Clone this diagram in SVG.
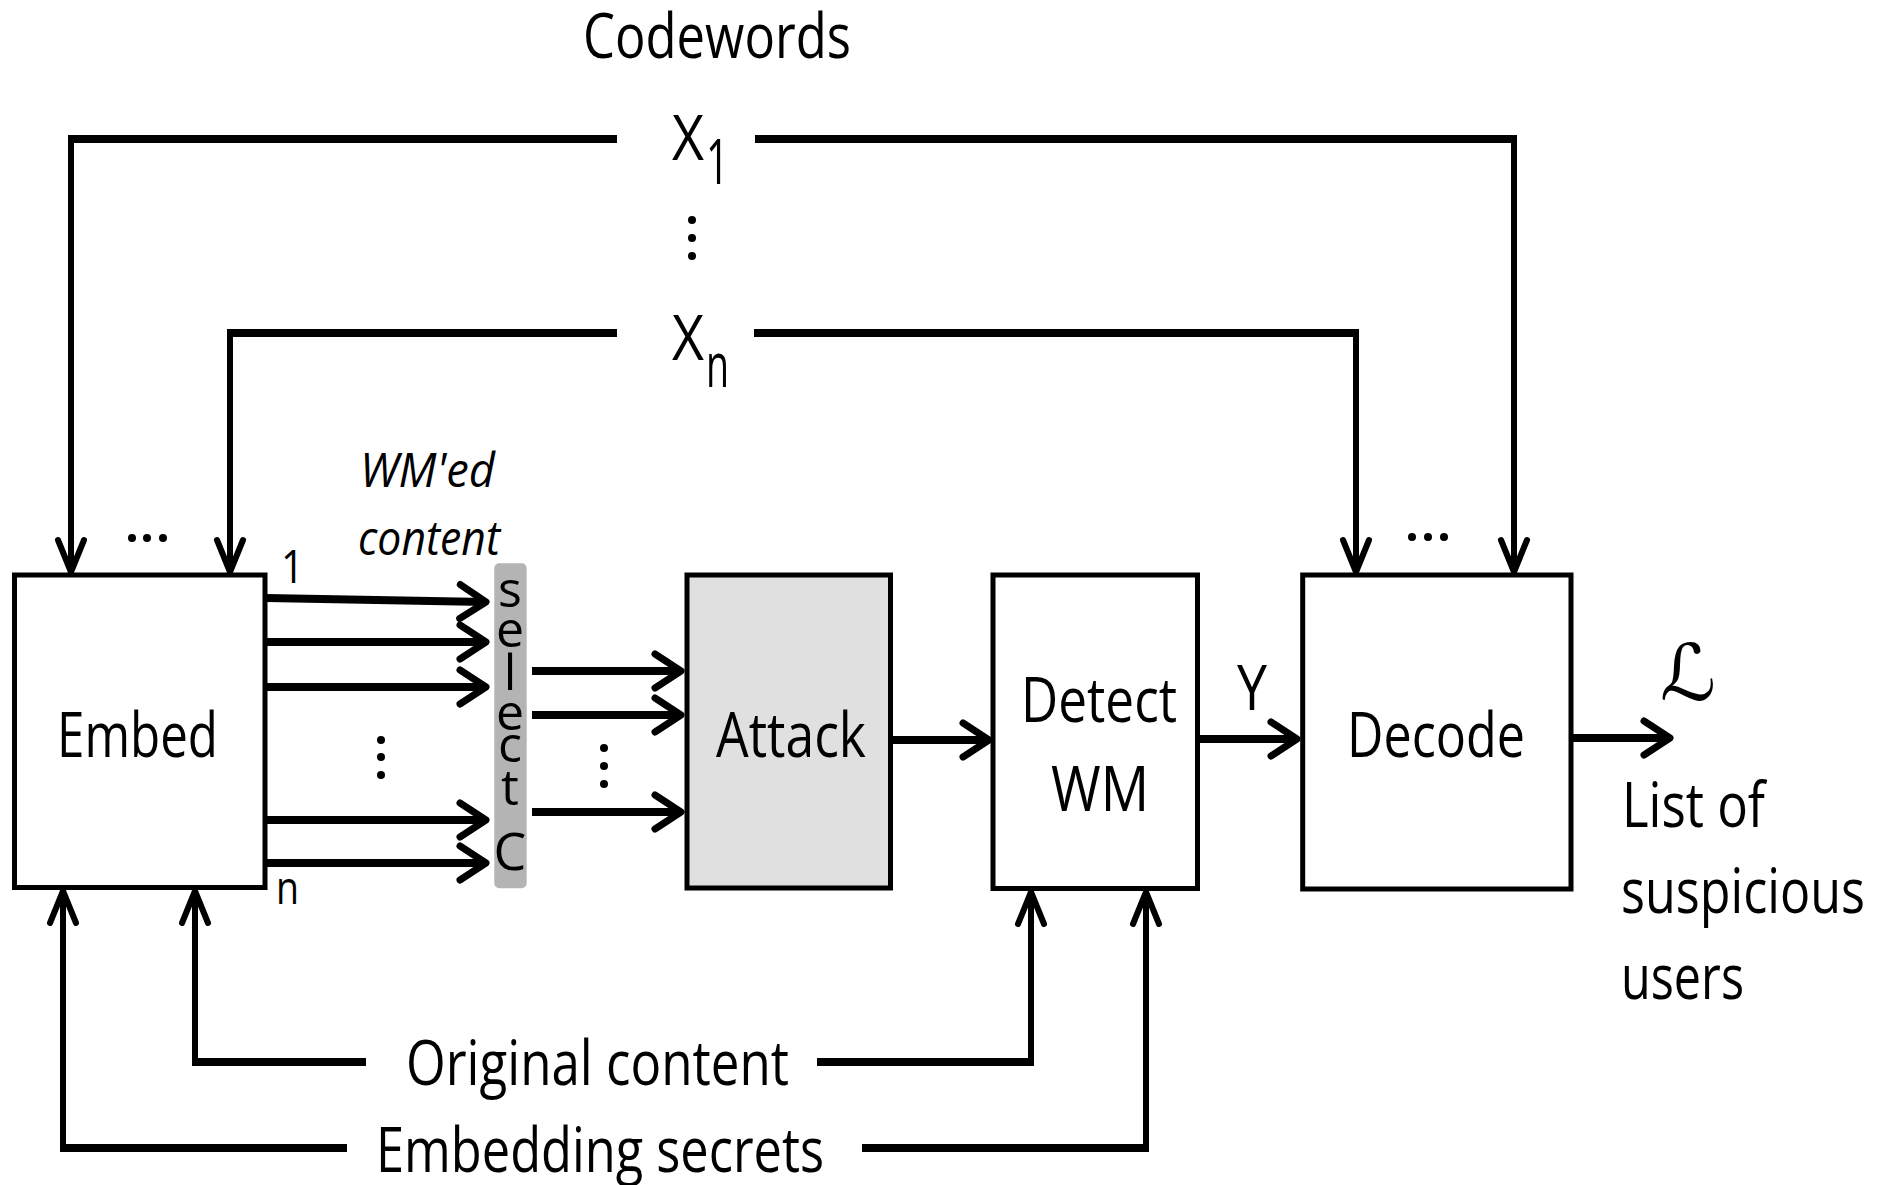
<svg xmlns="http://www.w3.org/2000/svg" width="1890" height="1185" viewBox="0 0 1890 1185">
  <style>
    .box { stroke: #000; stroke-width: 5; }
    .plain { fill: #fff; }
    .shaded { fill: #e0e0e0; }
    .h { stroke: #000; stroke-width: 8; fill: none; }
    .v { stroke: #000; stroke-width: 6; fill: none; }
    .lbl { font-family: "Open Sans", "Liberation Sans", sans-serif; font-size: 63px; fill: #000; }
    .small { font-size: 46px; }
    .ital { font-style: italic; font-size: 48px; }
    .sel { font-family: "Open Sans", "Liberation Sans", sans-serif; font-size: 50px; fill: #000; text-anchor: middle; }
    .dot { fill: #000; }
  </style>
  <defs>
    <!-- open chevron for horizontal flow lines -->
    <marker id="arrH" markerUnits="userSpaceOnUse" orient="auto" overflow="visible" markerWidth="1" markerHeight="1" refX="0" refY="0">
      <path d="M-26,-17 L0,0 L-26,17" fill="none" stroke="#000" stroke-width="7" stroke-linecap="round" stroke-linejoin="round"/>
    </marker>
    <!-- open chevron for vertical feed lines -->
    <marker id="arrV" markerUnits="userSpaceOnUse" orient="auto" overflow="visible" markerWidth="1" markerHeight="1" refX="0" refY="0">
      <path d="M-32,-13 L0,0 L-32,13" fill="none" stroke="#000" stroke-width="6" stroke-linecap="round" stroke-linejoin="round"/>
    </marker>
  </defs>

  <rect width="1890" height="1185" fill="#fff"/>

  <!-- codeword labels -->
  <g id="codewords">
    <text class="lbl" x="583" y="58" textLength="268" lengthAdjust="spacingAndGlyphs">Codewords</text>
    <text class="lbl" x="672" y="160" textLength="32" lengthAdjust="spacingAndGlyphs">X</text>
    <text class="lbl" x="706" y="184" font-size="57" textLength="23" lengthAdjust="spacingAndGlyphs">1</text>
    <circle class="dot" cx="692" cy="220" r="4"/>
    <circle class="dot" cx="692" cy="238" r="4"/>
    <circle class="dot" cx="692" cy="256" r="4"/>
    <text class="lbl" x="672" y="360" textLength="32" lengthAdjust="spacingAndGlyphs">X</text>
    <text class="lbl" x="706" y="387" font-size="60" textLength="23" lengthAdjust="spacingAndGlyphs">n</text>
  </g>

  <!-- processing blocks -->
  <g id="embed">
    <rect class="box plain" x="14.5" y="575" width="250.5" height="312.5"/>
    <text class="lbl" x="57" y="757" textLength="161" lengthAdjust="spacingAndGlyphs">Embed</text>
    <circle class="dot" cx="132" cy="538" r="4"/>
    <circle class="dot" cx="147" cy="538" r="4"/>
    <circle class="dot" cx="163" cy="538" r="4"/>
    <text class="lbl small" x="281" y="583" textLength="23" lengthAdjust="spacingAndGlyphs">1</text>
    <text class="lbl small" x="276" y="904" textLength="23" lengthAdjust="spacingAndGlyphs">n</text>
  </g>

  <g id="wm-content">
    <text class="lbl ital" x="360" y="487" textLength="135" lengthAdjust="spacingAndGlyphs">WM'ed</text>
    <text class="lbl ital" x="358" y="555" textLength="142" lengthAdjust="spacingAndGlyphs">content</text>
  </g>

  <g id="select">
    <rect x="494.3" y="563.3" width="32.4" height="325" rx="5" fill="#b4b4b4"/>
    <text class="sel"><tspan x="510" y="607">s</tspan><tspan x="510" y="647">e</tspan><tspan x="510" y="690">l</tspan><tspan x="510" y="730">e</tspan><tspan x="510" y="762">c</tspan><tspan x="510" y="805">t</tspan><tspan x="510" y="870" font-size="52">C</tspan></text>
  </g>

  <g id="attack">
    <rect class="box shaded" x="687" y="575" width="203.5" height="313"/>
    <text class="lbl" x="716" y="757" textLength="150" lengthAdjust="spacingAndGlyphs">Attack</text>
  </g>

  <g id="detect">
    <rect class="box plain" x="993" y="575" width="204.5" height="313.5"/>
    <text class="lbl" x="1021" y="722" textLength="156" lengthAdjust="spacingAndGlyphs">Detect</text>
    <text class="lbl" x="1051" y="811" textLength="98" lengthAdjust="spacingAndGlyphs">WM</text>
  </g>

  <text id="label-y" class="lbl" x="1237" y="710" textLength="30" lengthAdjust="spacingAndGlyphs">Y</text>

  <g id="decode">
    <rect class="box plain" x="1302.7" y="575" width="268.3" height="314"/>
    <text class="lbl" x="1347" y="757" textLength="178" lengthAdjust="spacingAndGlyphs">Decode</text>
    <circle class="dot" cx="1412" cy="537" r="4"/>
    <circle class="dot" cx="1428" cy="537" r="4"/>
    <circle class="dot" cx="1444" cy="537" r="4"/>
  </g>

  <g id="output">
    <text x="1660" y="700" font-family="'DejaVu Serif', 'DejaVu Sans', serif" font-size="78" font-style="italic">ℒ</text>
    <text class="lbl" x="1622" y="827" textLength="143" lengthAdjust="spacingAndGlyphs">List of</text>
    <text class="lbl" x="1621" y="913" textLength="244" lengthAdjust="spacingAndGlyphs">suspicious</text>
    <text class="lbl" x="1621" y="999" textLength="123" lengthAdjust="spacingAndGlyphs">users</text>
  </g>

  <g id="inputs">
    <text class="lbl" x="406" y="1085" textLength="383" lengthAdjust="spacingAndGlyphs">Original content</text>
    <text class="lbl" x="376" y="1172" textLength="448" lengthAdjust="spacingAndGlyphs">Embedding secrets</text>
  </g>

  <!-- connectors -->
  <g id="connectors">
    <!-- codewords to Embed and Decode -->
    <line class="h" x1="617" y1="139" x2="68" y2="139"/>
    <path class="v" d="M71,135 V572" marker-end="url(#arrV)"/>
    <line class="h" x1="617" y1="333" x2="227" y2="333"/>
    <path class="v" d="M230,329 V572" marker-end="url(#arrV)"/>
    <line class="h" x1="755" y1="139" x2="1517" y2="139"/>
    <path class="v" d="M1514,135 V572" marker-end="url(#arrV)"/>
    <line class="h" x1="754" y1="333" x2="1359" y2="333"/>
    <path class="v" d="M1356,329 V572" marker-end="url(#arrV)"/>

    <!-- Embed outputs into select -->
    <path class="h" d="M266,598 L486,602" marker-end="url(#arrH)"/>
    <path class="h" d="M266,642 H486" marker-end="url(#arrH)"/>
    <path class="h" d="M266,687 H486" marker-end="url(#arrH)"/>
    <path class="h" d="M266,820 H486" marker-end="url(#arrH)"/>
    <path class="h" d="M266,863 H486" marker-end="url(#arrH)"/>
    <circle class="dot" cx="381" cy="740" r="4"/>
    <circle class="dot" cx="381" cy="757" r="4"/>
    <circle class="dot" cx="381" cy="775" r="4"/>

    <!-- select into Attack -->
    <path class="h" d="M532,671 H681" marker-end="url(#arrH)"/>
    <path class="h" d="M532,715 H681" marker-end="url(#arrH)"/>
    <path class="h" d="M532,812 H681" marker-end="url(#arrH)"/>
    <circle class="dot" cx="604" cy="748" r="4"/>
    <circle class="dot" cx="604" cy="766" r="4"/>
    <circle class="dot" cx="604" cy="784" r="4"/>

    <!-- main chain -->
    <path class="h" d="M891,740 H989" marker-end="url(#arrH)"/>
    <path class="h" d="M1199,739 H1297" marker-end="url(#arrH)"/>
    <path class="h" d="M1573,738 H1670" marker-end="url(#arrH)"/>

    <!-- original content and embedding secrets feeds -->
    <line class="h" x1="366" y1="1062" x2="192" y2="1062"/>
    <path class="v" d="M195,1066 V891" marker-end="url(#arrV)"/>
    <line class="h" x1="347" y1="1148" x2="60" y2="1148"/>
    <path class="v" d="M63,1152 V891" marker-end="url(#arrV)"/>
    <line class="h" x1="817" y1="1062" x2="1034" y2="1062"/>
    <path class="v" d="M1031,1066 V892" marker-end="url(#arrV)"/>
    <line class="h" x1="862" y1="1148" x2="1149" y2="1148"/>
    <path class="v" d="M1146,1152 V892" marker-end="url(#arrV)"/>
  </g>
</svg>
